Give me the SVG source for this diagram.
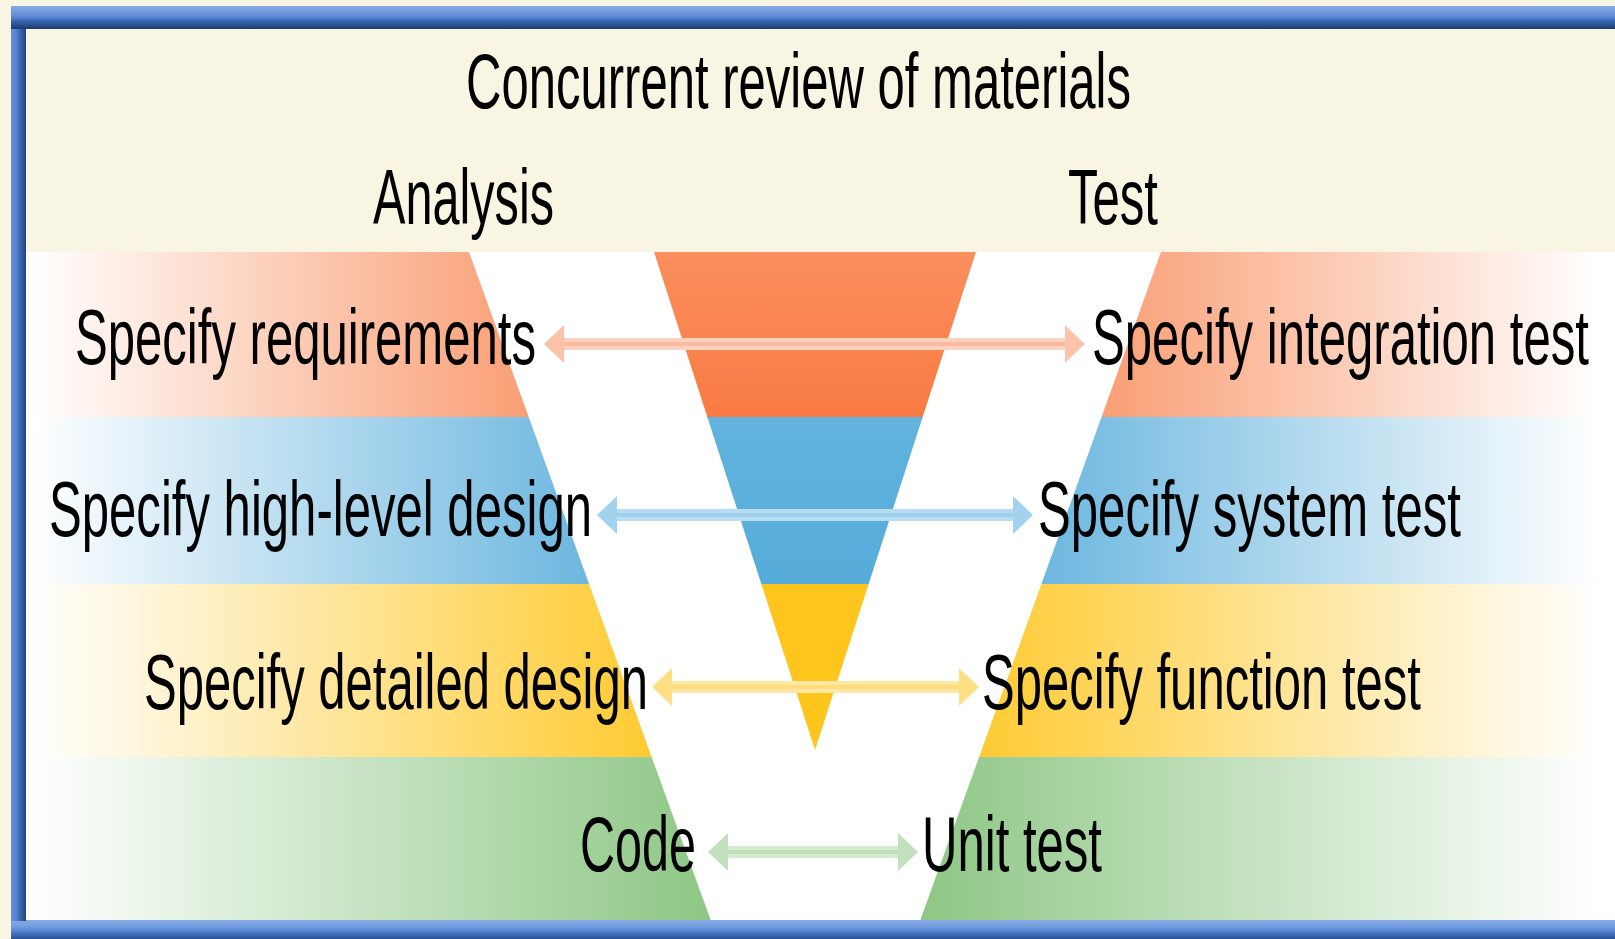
<svg xmlns="http://www.w3.org/2000/svg" width="1615" height="939" viewBox="0 0 1615 939">
  <style>
    text { font-family: "Liberation Sans Narrow", "Liberation Sans", Arial, sans-serif; font-size: 77px; fill: #000; }
    .shaft { stroke-width: 12; fill: none; }
    .stripe { stroke-width: 4; fill: none; }
  </style>
  <defs>
    <linearGradient id="gTop" x1="0" y1="0" x2="0" y2="1">
      <stop offset="0" stop-color="#86a8e4"/>
      <stop offset="0.3" stop-color="#6e97dc"/>
      <stop offset="0.5" stop-color="#5683d2"/>
      <stop offset="0.68" stop-color="#3563aa"/>
      <stop offset="0.85" stop-color="#284c8a"/>
      <stop offset="1" stop-color="#1d3868"/>
    </linearGradient>
    <linearGradient id="gLeft" x1="0" y1="0" x2="1" y2="0">
      <stop offset="0" stop-color="#6790dc"/>
      <stop offset="0.35" stop-color="#5683d2"/>
      <stop offset="0.65" stop-color="#3461a8"/>
      <stop offset="1" stop-color="#23437c"/>
    </linearGradient>
    <linearGradient id="gBot" x1="0" y1="0" x2="0" y2="1">
      <stop offset="0" stop-color="#86a8e4"/>
      <stop offset="0.3" stop-color="#76a0e0"/>
      <stop offset="0.55" stop-color="#5b88d6"/>
      <stop offset="0.8" stop-color="#3a68b2"/>
      <stop offset="1" stop-color="#2a5296"/>
    </linearGradient>
    <linearGradient id="bOrange" gradientUnits="userSpaceOnUse" x1="30" y1="0" x2="1600" y2="0">
      <stop offset="0" stop-color="#ffffff"/>
      <stop offset="0.44" stop-color="#f7793f"/>
      <stop offset="0.56" stop-color="#f7793f"/>
      <stop offset="1" stop-color="#ffffff"/>
    </linearGradient>
    <linearGradient id="bBlue" gradientUnits="userSpaceOnUse" x1="30" y1="0" x2="1600" y2="0">
      <stop offset="0" stop-color="#ffffff"/>
      <stop offset="0.44" stop-color="#4aa6d8"/>
      <stop offset="0.56" stop-color="#4aa6d8"/>
      <stop offset="1" stop-color="#ffffff"/>
    </linearGradient>
    <linearGradient id="bYellow" gradientUnits="userSpaceOnUse" x1="30" y1="0" x2="1600" y2="0">
      <stop offset="0" stop-color="#ffffff"/>
      <stop offset="0.44" stop-color="#fec51c"/>
      <stop offset="0.56" stop-color="#fec51c"/>
      <stop offset="1" stop-color="#ffffff"/>
    </linearGradient>
    <linearGradient id="bGreen" gradientUnits="userSpaceOnUse" x1="30" y1="0" x2="1600" y2="0">
      <stop offset="0" stop-color="#ffffff"/>
      <stop offset="0.44" stop-color="#8cc683"/>
      <stop offset="0.56" stop-color="#8cc683"/>
      <stop offset="1" stop-color="#ffffff"/>
    </linearGradient>
    <linearGradient id="tOrange" x1="0" y1="0" x2="0" y2="1">
      <stop offset="0" stop-color="#fb8f5f"/>
      <stop offset="1" stop-color="#f97a42"/>
    </linearGradient>
    <linearGradient id="tBlue" x1="0" y1="0" x2="0" y2="1">
      <stop offset="0" stop-color="#62b3de"/>
      <stop offset="1" stop-color="#56acda"/>
    </linearGradient>
    <clipPath id="triClip">
      <polygon points="654,252 976,252 815,750"/>
    </clipPath>
    <marker id="hOrange" markerUnits="userSpaceOnUse" markerWidth="20" markerHeight="40" viewBox="0 0 20 40" refX="0" refY="20" orient="auto-start-reverse">
      <path d="M0,1 L20,20 L0,39 Z" fill="#fcc3aa"/>
    </marker>
    <marker id="hBlue" markerUnits="userSpaceOnUse" markerWidth="20" markerHeight="40" viewBox="0 0 20 40" refX="0" refY="20" orient="auto-start-reverse">
      <path d="M0,1 L20,20 L0,39 Z" fill="#a3d2ef"/>
    </marker>
    <marker id="hYellow" markerUnits="userSpaceOnUse" markerWidth="20" markerHeight="40" viewBox="0 0 20 40" refX="0" refY="20" orient="auto-start-reverse">
      <path d="M0,1 L20,20 L0,39 Z" fill="#ffdf84"/>
    </marker>
    <marker id="hGreen" markerUnits="userSpaceOnUse" markerWidth="20" markerHeight="40" viewBox="0 0 20 40" refX="0" refY="20" orient="auto-start-reverse">
      <path d="M0,1 L20,20 L0,39 Z" fill="#c2e0bd"/>
    </marker>
  </defs>

  <!-- background -->
  <rect x="0" y="0" width="1615" height="939" fill="#f8f5e2"/>

  <!-- bands -->
  <g id="bands">
    <rect x="26" y="252" width="1589" height="166" fill="url(#bOrange)"/>
    <rect x="26" y="417" width="1589" height="168" fill="url(#bBlue)"/>
    <rect x="26" y="584" width="1589" height="174" fill="url(#bYellow)"/>
    <rect x="26" y="757" width="1589" height="165" fill="url(#bGreen)"/>
  </g>

  <!-- V shape -->
  <g id="v-shape">
    <polygon points="469,252 1161,252 920,921 711,921" fill="#ffffff"/>
    <g clip-path="url(#triClip)">
      <rect x="640" y="252" width="350" height="166" fill="url(#tOrange)"/>
      <rect x="640" y="417" width="350" height="168" fill="url(#tBlue)"/>
      <rect x="640" y="584" width="350" height="170" fill="#fec51c"/>
    </g>
  </g>

  <!-- frame -->
  <g id="frame">
    <rect x="11" y="920" width="1604" height="19" fill="url(#gBot)"/>
    <rect x="11" y="6" width="15" height="915" fill="url(#gLeft)"/>
    <rect x="11" y="6" width="1604" height="23" fill="url(#gTop)"/>
    <polygon points="11,6 26,29 26,6" fill="url(#gTop)"/>
  </g>

  <!-- connectors -->
  <g id="connectors">
    <line class="shaft" x1="564" y1="344" x2="1065" y2="344" stroke="#fdd2c0" marker-start="url(#hOrange)" marker-end="url(#hOrange)"/>
    <line class="stripe" x1="564" y1="344" x2="1065" y2="344" stroke="#fcbb9f"/>
    <line class="shaft" x1="617" y1="515" x2="1013" y2="515" stroke="#b8ddf2" marker-start="url(#hBlue)" marker-end="url(#hBlue)"/>
    <line class="stripe" x1="617" y1="515" x2="1013" y2="515" stroke="#9dcfee"/>
    <line class="shaft" x1="672" y1="687" x2="959" y2="687" stroke="#ffe7a6" marker-start="url(#hYellow)" marker-end="url(#hYellow)"/>
    <line class="stripe" x1="672" y1="687" x2="959" y2="687" stroke="#ffdc7c"/>
    <line class="shaft" x1="728" y1="852" x2="898" y2="852" stroke="#d3eacf" marker-start="url(#hGreen)" marker-end="url(#hGreen)"/>
    <line class="stripe" x1="728" y1="852" x2="898" y2="852" stroke="#bddfb8"/>
  </g>

  <!-- labels -->
  <g id="title"><text x="466" y="108" textLength="665" lengthAdjust="spacingAndGlyphs">Concurrent review of materials</text></g>
  <g id="analysis"><text x="373" y="224" textLength="181" lengthAdjust="spacingAndGlyphs">Analysis</text></g>
  <g id="test"><text x="1068" y="224" textLength="90" lengthAdjust="spacingAndGlyphs">Test</text></g>

  <g id="specify-requirements"><text x="75" y="364" textLength="461" lengthAdjust="spacingAndGlyphs">Specify requirements</text></g>
  <g id="specify-integration-test"><text x="1092" y="364" textLength="497" lengthAdjust="spacingAndGlyphs">Specify integration test</text></g>

  <g id="specify-high-level-design"><text x="49" y="536" textLength="543" lengthAdjust="spacingAndGlyphs">Specify high-level design</text></g>
  <g id="specify-system-test"><text x="1038" y="536" textLength="423" lengthAdjust="spacingAndGlyphs">Specify system test</text></g>

  <g id="specify-detailed-design"><text x="144" y="709" textLength="504" lengthAdjust="spacingAndGlyphs">Specify detailed design</text></g>
  <g id="specify-function-test"><text x="982" y="709" textLength="439" lengthAdjust="spacingAndGlyphs">Specify function test</text></g>

  <g id="code"><text x="580" y="871" textLength="116" lengthAdjust="spacingAndGlyphs">Code</text></g>
  <g id="unit-test"><text x="922" y="871" textLength="180" lengthAdjust="spacingAndGlyphs">Unit test</text></g>
</svg>
